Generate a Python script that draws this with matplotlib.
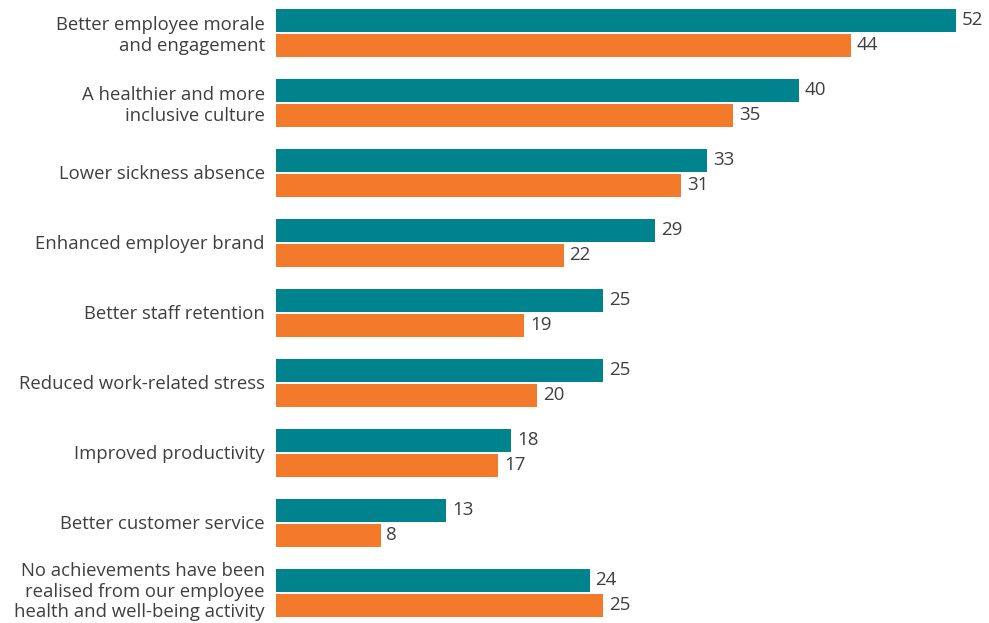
import numpy as np
import matplotlib.pyplot as plt

plt.rcParams['font.family'] = ['Open Sans', 'DejaVu Sans']

categories = [
    'Better employee morale\nand engagement',
    'A healthier and more\ninclusive culture',
    'Lower sickness absence',
    'Enhanced employer brand',
    'Better staff retention',
    'Reduced work-related stress',
    'Improved productivity',
    'Better customer service',
    'No achievements have been\nrealised from our employee\nhealth and well-being activity',
]
series_a = [52, 40, 33, 29, 25, 25, 18, 13, 24]
series_b = [44, 35, 31, 22, 19, 20, 17, 8, 25]

teal = '#00838c'
orange = '#f37a2b'
text_col = '#3f3f3f'

fig = plt.figure(figsize=(9.89, 6.23), dpi=100)
ax = fig.add_axes([276 / 989, 0, 1 - 276 / 989, 1])

y = np.arange(len(categories))
off = 0.179
h = 0.33
ax.barh(y - off, series_a, height=h, color=teal)
ax.barh(y + off, series_b, height=h, color=orange)

for yi, a, b in zip(y, series_a, series_b):
    ax.text(a + 0.45, yi - off, str(a), va='center', ha='left',
            fontsize=13.5, color=text_col)
    ax.text(b + 0.45, yi + off, str(b), va='center', ha='left',
            fontsize=13.5, color=text_col)

# nudge the three-line bottom label up so it stays inside the figure
tick_pos = y - 0.01
tick_pos[-1] -= 0.05

ax.set_xlim(0, 54.55)
ax.set_ylim(8.43, -0.471)
ax.set_yticks(tick_pos)
ax.set_yticklabels(categories, fontsize=13.3, color=text_col, linespacing=1.18)
ax.tick_params(axis='y', length=0, pad=8)
ax.set_xticks([])
for s in ax.spines.values():
    s.set_visible(False)

fig.savefig('out.png', dpi=100)
